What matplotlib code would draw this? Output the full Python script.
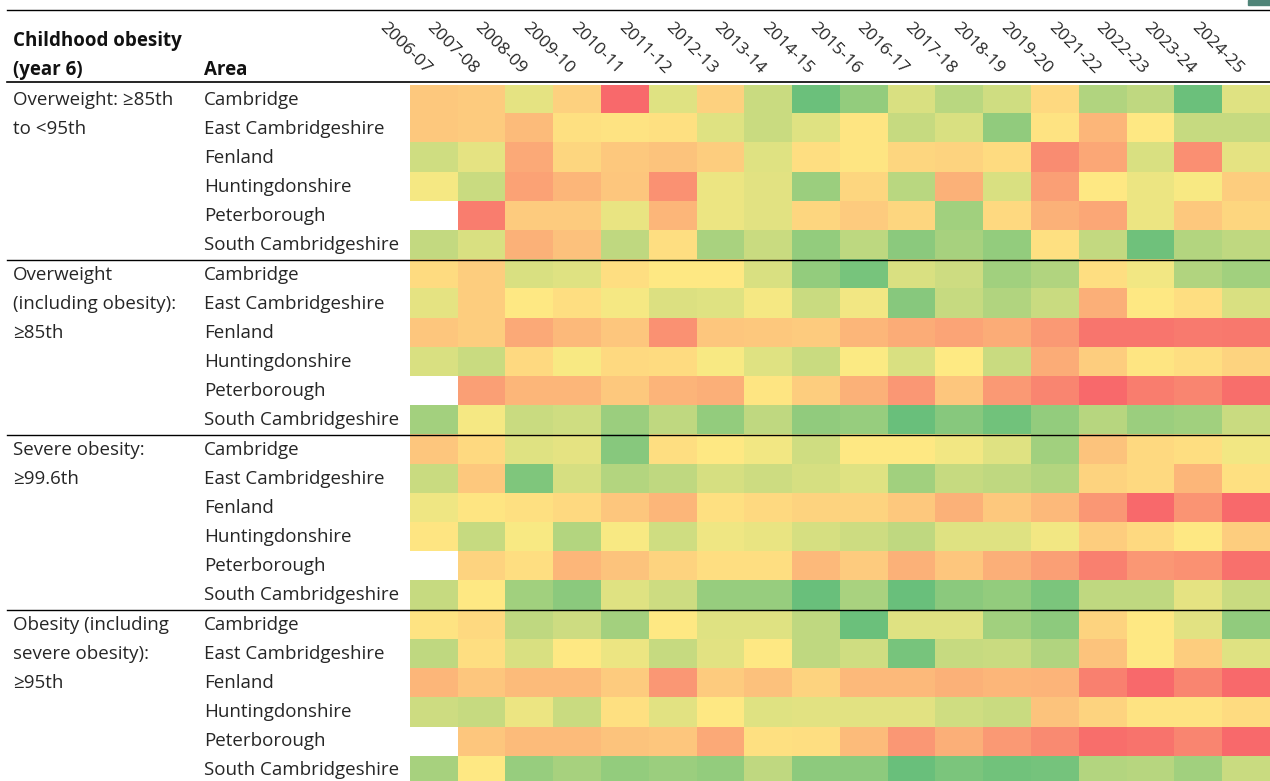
import numpy as np
import matplotlib
matplotlib.use("Agg")
import matplotlib.pyplot as plt
from matplotlib.colors import LinearSegmentedColormap
from matplotlib.transforms import blended_transform_factory
from matplotlib.patches import Rectangle

plt.rcParams['font.family'] = ['Open Sans', 'DejaVu Sans']

years = ["2006-07", "2007-08", "2008-09", "2009-10", "2010-11", "2011-12",
         "2012-13", "2013-14", "2014-15", "2015-16", "2016-17", "2017-18",
         "2018-19", "2019-20", "2021-22", "2022-23", "2023-24", "2024-25"]

areas = ["Cambridge", "East Cambridgeshire", "Fenland", "Huntingdonshire",
         "Peterborough", "South Cambridgeshire"]

measures = ["Overweight: \u226585th\nto <95th",
            "Overweight\n(including obesity):\n\u226585th",
            "Severe obesity:\n\u226599.6th",
            "Obesity (including\nsevere obesity):\n\u226595th"]

nan = np.nan

# colour-scale score per cell (0 = lowest/green, 5 = middle/yellow, 10 = highest/red)
overweight = [
    [6.3, 6.2, 4.2, 6.0, 10.0, 4.0, 6.0, 3.3, 0.3, 1.6, 3.8, 2.8, 3.5, 5.7, 2.5, 3.0, 0.3, 4.0],
    [6.3, 6.2, 6.8, 5.4, 5.3, 5.4, 4.0, 3.3, 4.0, 5.2, 3.2, 3.8, 1.5, 5.3, 7.0, 5.1, 3.2, 3.2],
    [3.5, 4.2, 7.5, 5.8, 6.3, 6.5, 6.1, 4.0, 5.5, 5.2, 5.8, 5.9, 5.6, 8.6, 7.6, 3.8, 8.5, 4.2],
    [4.7, 3.3, 7.8, 7.0, 6.4, 8.4, 4.4, 4.1, 1.8, 5.8, 2.8, 7.2, 3.8, 7.9, 5.1, 4.4, 4.8, 6.1],
    [nan, 9.2, 6.2, 6.2, 4.3, 7.0, 4.4, 4.1, 5.8, 6.2, 5.8, 2.0, 5.7, 7.2, 7.6, 4.4, 6.3, 5.8],
    [3.1, 3.8, 7.2, 6.6, 3.0, 5.5, 2.3, 3.3, 1.6, 2.9, 1.3, 2.2, 1.6, 5.4, 3.1, 0.4, 2.6, 3.0],
]
overweight_incl_obesity = [
    [5.6, 6.1, 3.8, 4.0, 5.5, 5.1, 5.1, 3.8, 1.6, 0.7, 3.8, 3.4, 2.0, 2.5, 5.5, 4.6, 2.5, 2.0],
    [4.2, 6.1, 5.1, 5.5, 4.7, 3.9, 4.0, 4.7, 3.3, 4.6, 1.2, 3.2, 2.5, 3.3, 7.3, 5.1, 5.5, 3.8],
    [6.4, 6.1, 7.5, 6.9, 6.4, 8.4, 6.4, 6.3, 6.2, 7.0, 7.4, 7.7, 7.4, 8.1, 9.5, 9.5, 9.3, 9.4],
    [3.8, 3.3, 5.7, 4.8, 5.7, 5.6, 4.8, 4.0, 3.3, 4.9, 3.8, 5.0, 3.3, 7.4, 6.1, 5.2, 5.5, 5.9],
    [nan, 7.9, 7.0, 7.0, 6.3, 7.1, 7.3, 5.2, 6.1, 7.2, 8.2, 6.4, 8.1, 8.9, 10.0, 9.2, 8.9, 9.8],
    [2.1, 4.7, 3.3, 3.5, 1.8, 3.0, 1.6, 3.0, 1.5, 1.7, 0.2, 1.2, 0.5, 1.6, 2.7, 1.8, 2.0, 3.3],
]
severe_obesity = [
    [6.4, 5.7, 4.0, 4.2, 1.2, 5.5, 5.1, 4.6, 3.5, 5.1, 5.1, 4.6, 4.0, 2.0, 6.5, 5.7, 5.5, 4.6],
    [3.3, 6.3, 0.9, 3.7, 2.6, 3.0, 3.7, 3.4, 3.7, 4.0, 2.0, 3.2, 3.0, 2.6, 5.9, 5.7, 7.0, 5.4],
    [4.5, 5.2, 5.4, 5.7, 6.4, 7.0, 5.4, 5.7, 5.9, 5.9, 6.3, 7.2, 6.3, 6.9, 8.2, 10.0, 8.3, 10.0],
    [5.2, 3.2, 4.8, 2.6, 4.8, 3.5, 4.5, 4.3, 3.7, 3.4, 3.0, 4.0, 4.0, 4.6, 6.1, 5.7, 5.1, 6.1],
    [nan, 5.9, 5.5, 7.0, 6.5, 5.9, 5.5, 5.5, 6.9, 6.2, 7.2, 6.4, 7.3, 7.9, 9.1, 8.2, 8.4, 9.7],
    [3.2, 5.1, 2.0, 1.3, 4.0, 3.4, 1.7, 1.7, 0.2, 2.3, 0.2, 1.3, 1.6, 0.8, 3.0, 3.0, 4.2, 3.3],
]
obesity_incl_severe = [
    [5.3, 5.7, 3.0, 3.4, 2.1, 5.1, 4.0, 4.0, 3.0, 0.3, 4.0, 4.0, 2.0, 1.4, 5.9, 5.1, 4.1, 1.5],
    [3.0, 5.5, 3.8, 5.1, 4.4, 3.2, 4.1, 5.1, 3.0, 3.5, 0.7, 3.2, 3.3, 2.5, 6.5, 5.1, 6.1, 4.0],
    [7.0, 6.4, 6.8, 6.8, 6.2, 8.2, 6.2, 6.6, 5.9, 6.9, 6.9, 7.2, 7.0, 7.1, 9.1, 10.0, 8.9, 10.0],
    [3.4, 3.2, 4.4, 3.3, 5.4, 4.1, 5.1, 4.0, 4.1, 4.1, 4.1, 3.5, 3.3, 6.5, 5.9, 5.3, 5.3, 5.6],
    [nan, 6.4, 6.8, 6.8, 6.5, 6.4, 7.5, 5.4, 5.5, 6.8, 8.2, 7.3, 8.1, 8.7, 9.8, 9.6, 8.9, 10.0],
    [2.2, 5.1, 1.7, 2.2, 1.6, 1.8, 1.6, 3.0, 1.4, 1.4, 0.2, 0.8, 0.5, 0.6, 2.6, 2.7, 2.0, 3.3],
]

grid = np.array(overweight + overweight_incl_obesity + severe_obesity + obesity_incl_severe)
nrows, ncols = grid.shape

W, H = 1270, 781
fig = plt.figure(figsize=(W / 100, H / 100), dpi=100)
row_px = 29.17
ax = fig.add_axes([410 / W, (H - 85 - nrows * row_px) / H, 860 / W, nrows * row_px / H])

cmap = LinearSegmentedColormap.from_list("rag", ["#63BE7B", "#FFEB84", "#F8696B"])
cmap.set_bad("white")
ax.imshow(np.ma.masked_invalid(grid), cmap=cmap, vmin=0, vmax=10,
          aspect="auto", interpolation="nearest")
ax.set_xlim(-0.5, ncols - 0.5)
ax.set_ylim(nrows - 0.5, -0.5)
ax.axis("off")

fs = 13.5
txt = "#262626"
tr = blended_transform_factory(ax.transAxes, ax.transData)
x_group = (13 - 410) / 860
x_area = (204 - 410) / 860
x_line = (7 - 410) / 860

# year labels
for j, yr in enumerate(years):
    ax.text(j - 0.24, -0.75, yr, rotation=-45, rotation_mode="anchor",
            ha="right", va="bottom", fontsize=12.5, color=txt, clip_on=False)

# header
ax.text(x_group, -2.0, "Childhood obesity", transform=tr, fontsize=fs,
        fontweight="bold", va="center", color="#111111")
ax.text(x_group, -1.02, "(year 6)", transform=tr, fontsize=fs,
        fontweight="bold", va="center", color="#111111")
ax.text(x_area, -1.02, "Area", transform=tr, fontsize=fs,
        fontweight="bold", va="center", color="#111111")

# row labels
for g, m in enumerate(measures):
    for k, line in enumerate(m.split("\n")):
        ax.text(x_group, g * len(areas) + k, line, transform=tr, fontsize=fs,
                va="center", color=txt)
    for i, a in enumerate(areas):
        ax.text(x_area, g * len(areas) + i, a, transform=tr, fontsize=fs,
                va="center", color=txt)

# rules
line_kw = dict(xmin=x_line, xmax=1, color="black", clip_on=False)
ax.axhline(-3.07, lw=1.0, **line_kw)
ax.axhline(-0.6, lw=1.2, **line_kw)
for g in range(1, len(measures)):
    ax.axhline(g * len(areas) - 0.5, lw=1.0, **line_kw)

fig.patches.append(Rectangle((1248 / W, 1 - 5 / H), 22 / W, 5 / H,
                             transform=fig.transFigure, color="#4F8478"))

fig.savefig("out.png", dpi=100)
